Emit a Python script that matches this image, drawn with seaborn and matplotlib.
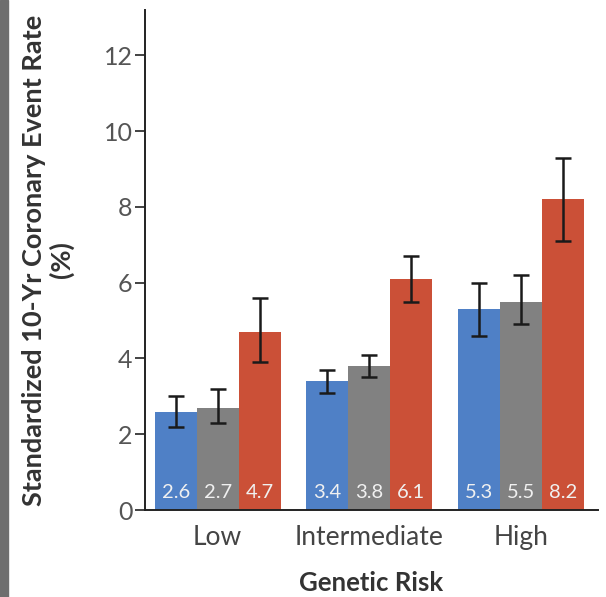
import numpy as np
import pandas as pd
import matplotlib
matplotlib.use("Agg")
import matplotlib.pyplot as plt
import seaborn as sns

# genetic risk groups on the x axis, lifestyle groups as hue
risk_groups = ["Low", "Intermediate", "High"]
lifestyle = ["Favorable", "Intermediate", "Unfavorable"]

# event rate per (risk, lifestyle), with the error bar ends
rate_favorable = [2.6, 3.4, 5.3]
rate_intermediate = [2.7, 3.8, 5.5]
rate_unfavorable = [4.7, 6.1, 8.2]

low_favorable = [2.2, 3.1, 4.6]
low_intermediate = [2.3, 3.5, 4.9]
low_unfavorable = [3.9, 5.5, 7.1]

high_favorable = [3.0, 3.7, 6.0]
high_intermediate = [3.2, 4.1, 6.2]
high_unfavorable = [5.6, 6.7, 9.3]

colors = ["#4f80c6", "#818181", "#cb5037"]

rows = []
for name, rates, lo, hi in [
    (lifestyle[0], rate_favorable, low_favorable, high_favorable),
    (lifestyle[1], rate_intermediate, low_intermediate, high_intermediate),
    (lifestyle[2], rate_unfavorable, low_unfavorable, high_unfavorable),
]:
    for g, r, l, h in zip(risk_groups, rates, lo, hi):
        rows.append({"risk": g, "lifestyle": name, "rate": r, "lo": l, "hi": h})
df = pd.DataFrame(rows)

sns.set_style("ticks")
plt.rcParams["font.family"] = ["Lato", "DejaVu Sans"]

fig = plt.figure(figsize=(6.06, 5.97), dpi=100)
ax = fig.add_axes([145 / 606, 1 - 510 / 597, 453 / 606, 500 / 597])

sns.barplot(data=df, x="risk", y="rate", hue="lifestyle", order=risk_groups,
            hue_order=lifestyle, palette=colors, width=0.83, saturation=1,
            errorbar=None, legend=False, linewidth=0, ax=ax)

# error bars and value labels, placed on the bars seaborn drew
for patch, (_, row) in zip(ax.patches, df.iterrows()):
    xc = patch.get_x() + patch.get_width() / 2
    ax.errorbar(xc, row["rate"],
                yerr=[[row["rate"] - row["lo"]], [row["hi"] - row["rate"]]],
                fmt="none", ecolor="#1a1a1a", elinewidth=1.8, capsize=5.5,
                capthick=1.8)
    ax.text(xc, 0.45, f"{row['rate']:.1f}", ha="center", va="center",
            color="#f0f0f0", fontsize=14.5)

ax.set_xlim(-0.48, 2.51)
ax.set_ylim(0, 13.2)
ax.set_yticks([0, 2, 4, 6, 8, 10, 12])
ax.tick_params(axis="y", length=7, width=1.2, colors="#222222",
               labelcolor="#555555", labelsize=18, pad=2)
ax.tick_params(axis="x", length=0, labelcolor="#444444", labelsize=19, pad=11)
for side in ["top", "right"]:
    ax.spines[side].set_visible(False)
ax.spines["left"].set_linewidth(1.4)
ax.spines["bottom"].set_linewidth(1.4)
ax.spines["left"].set_color("#222222")
ax.spines["bottom"].set_color("#222222")

ax.set_xlabel("Genetic Risk", fontsize=18.5, fontweight="bold", color="#333333",
              labelpad=15)
ax.set_ylabel("Standardized 10-Yr Coronary Event Rate\n(%)", fontsize=19.5,
              fontweight="bold", color="#333333", labelpad=21, linespacing=1.15)

# dark strip along the left edge of the clipped page
fig.patches.append(plt.Rectangle((0, 0), 8 / 606, 1, transform=fig.transFigure,
                                 color="#6e6e6e", zorder=0))

fig.savefig("out.png", dpi=100)
